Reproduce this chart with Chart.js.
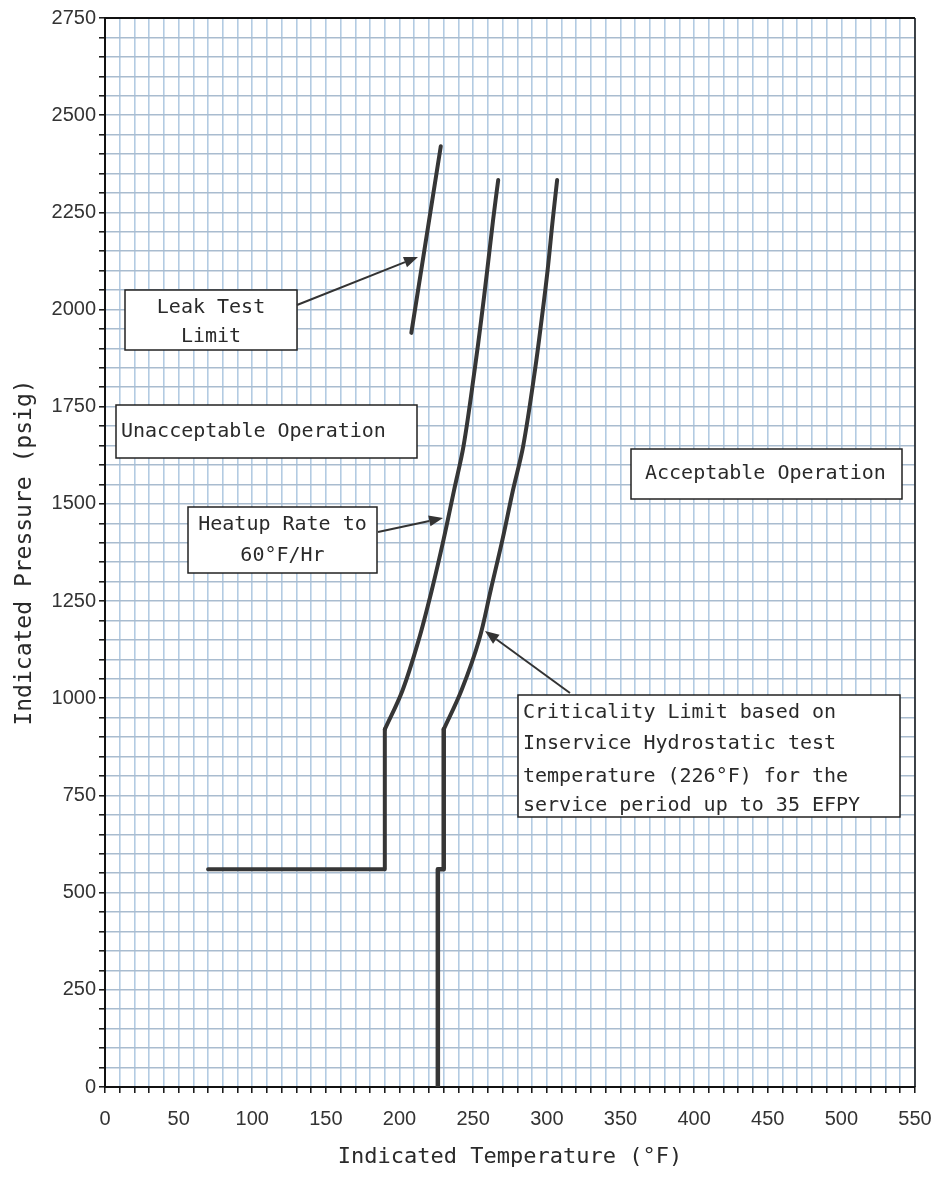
<!DOCTYPE html>
<html><head><meta charset="utf-8">
<script src="https://cdn.jsdelivr.net/npm/chart.js@4.4.1/dist/chart.umd.min.js"></script>
<style>html,body{margin:0;padding:0;background:#fff}canvas{display:block}</style>
</head><body>
<canvas id="c" width="935" height="1179"></canvas>
<script>
// ---- data ----
const xTickLabels = [0,50,100,150,200,250,300,350,400,450,500,550];
const yTickLabels = [0,250,500,750,1000,1250,1500,1750,2000,2250,2500,2750];

const leakTestT = [208, 228];
const leakTestP = [1940, 2420];

// heatup limit: straight (step) part, then curved part
const heatupStepT = [70, 190, 190];
const heatupStepP = [560, 560, 920];
const heatupCurveT = [190, 202, 213, 222, 230, 237, 243.5, 251, 255.5, 259.5, 263.5, 267];
const heatupCurveP = [920, 1020, 1150, 1280, 1410, 1535, 1650, 1845, 1975, 2100, 2230, 2333];

// criticality limit: straight (step) part, then curved part
const critStepT = [226, 226, 230, 230];
const critStepP = [0, 560, 560, 920];
const critCurveT = [230, 242, 254, 262, 270, 277, 284, 292, 296.5, 300.5, 304, 307];
const critCurveP = [920, 1020, 1150, 1280, 1410, 1535, 1650, 1845, 1975, 2100, 2230, 2333];

const xTitle = 'Indicated Temperature (°F)';
const yTitle = 'Indicated Pressure (psig)';

const notes = [
  {lines:['Leak Test','Limit'], box:[125,290,297,350], align:'center', ys:[308,337], arrow:[297,305,418,257]},
  {lines:['Unacceptable Operation'], box:[116,405,417,458], align:'left', x:121, ys:[432]},
  {lines:['Acceptable Operation'], box:[631,449,902,499], align:'left', x:645, ys:[474]},
  {lines:['Heatup Rate to','60°F/Hr'], box:[188,507,377,573], align:'center', ys:[525,556], arrow:[378,532,443,518]},
  {lines:['Criticality Limit based on','Inservice Hydrostatic test','temperature (226°F) for the','service period up to 35 EFPY'],
   box:[518,695,900,817], align:'left', x:523, ys:[713,744,777,806], arrow:[570,693,485,631]}
];

function pts(xs, ys){ return xs.map((x,i)=>({x:x, y:ys[i]})); }

const lineStyle = {borderColor:'#363636', borderWidth:4, pointRadius:0, showLine:true, fill:false,
  tension:0, borderJoinStyle:'round', borderCapStyle:'round'};
const curveStyle = Object.assign({}, lineStyle, {tension:0.35});

function arrow(ctx, x1,y1,x2,y2){
  ctx.save();
  ctx.strokeStyle='#333'; ctx.fillStyle='#333'; ctx.lineWidth=2;
  const a=Math.atan2(y2-y1,x2-x1), L=14, W=5.5;
  const bx=x2-L*Math.cos(a), by=y2-L*Math.sin(a);
  ctx.beginPath(); ctx.moveTo(x1,y1); ctx.lineTo(bx,by); ctx.stroke();
  ctx.beginPath(); ctx.moveTo(x2,y2);
  ctx.lineTo(bx+W*Math.sin(a), by-W*Math.cos(a));
  ctx.lineTo(bx-W*Math.sin(a), by+W*Math.cos(a));
  ctx.closePath(); ctx.fill();
  ctx.restore();
}

const extras = {
  id:'extras',
  beforeDatasetsDraw(chart){
    const {ctx, chartArea:ca} = chart;
    ctx.save();
    ctx.strokeStyle='#111';
    ctx.lineWidth=2;
    ctx.beginPath(); ctx.moveTo(ca.left, ca.top); ctx.lineTo(ca.right, ca.top); ctx.stroke();
    ctx.lineWidth=1.5;
    ctx.beginPath(); ctx.moveTo(ca.right, ca.top); ctx.lineTo(ca.right, ca.bottom); ctx.stroke();
    ctx.restore();
  },
  afterDatasetsDraw(chart){
    const ctx = chart.ctx;
    ctx.save();
    for (const n of notes){
      const [x1,y1,x2,y2] = n.box;
      ctx.fillStyle='#fff';
      ctx.fillRect(x1,y1,x2-x1,y2-y1);
      ctx.strokeStyle='#222'; ctx.lineWidth=1.5;
      ctx.strokeRect(x1,y1,x2-x1,y2-y1);
      ctx.fillStyle='#2a2a2a';
      ctx.font='20px "DejaVu Sans Mono"';
      ctx.textBaseline='middle';
      n.lines.forEach((t,i)=>{
        if (n.align==='center'){ ctx.textAlign='center'; ctx.fillText(t,(x1+x2)/2,n.ys[i]); }
        else { ctx.textAlign='left'; ctx.fillText(t,n.x,n.ys[i]); }
      });
      if (n.arrow) arrow(ctx, ...n.arrow);
    }
    ctx.restore();
  }
};

new Chart(document.getElementById('c'), {
  type:'scatter',
  data:{datasets:[
    Object.assign({label:'Leak Test Limit', data:pts(leakTestT, leakTestP)}, lineStyle),
    Object.assign({label:'Heatup Rate to 60°F/Hr (step)', data:pts(heatupStepT, heatupStepP)}, lineStyle),
    Object.assign({label:'Heatup Rate to 60°F/Hr', data:pts(heatupCurveT, heatupCurveP)}, curveStyle),
    Object.assign({label:'Criticality Limit (step)', data:pts(critStepT, critStepP)}, lineStyle, {borderWidth:4.5}),
    Object.assign({label:'Criticality Limit', data:pts(critCurveT, critCurveP)}, curveStyle)
  ]},
  options:{
    responsive:false, animation:false,
    layout:{padding:{left:0, top:18, right:20, bottom:0}},
    plugins:{legend:{display:false}, tooltip:{enabled:false}},
    scales:{
      x:{type:'linear', min:0, max:550,
        afterFit(s){ s.height = 92; s.paddingLeft = 0; s.paddingRight = 0; },
        grid:{color:'#b3cbe2', lineWidth:1.6, tickColor:'#111', tickLength:6, tickWidth:1.5},
        border:{color:'#111', width:2},
        ticks:{stepSize:10, autoSkip:false, maxRotation:0, padding:14, color:'#333',
          font:{family:'"Liberation Sans", Arial, sans-serif', size:20},
          callback:(v)=> xTickLabels.includes(v) ? String(v) : ''},
        title:{display:true, text:xTitle, color:'#2a2a2a', padding:{top:0,bottom:9},
          font:{family:'"DejaVu Sans Mono", monospace', size:22}}
      },
      y:{type:'linear', min:0, max:2750,
        afterFit(s){ s.width = 105; s.paddingTop = 0; s.paddingBottom = 0; },
        grid:{color:'#a9bccf', lineWidth:1.6, tickColor:'#111', tickLength:6, tickWidth:1.5},
        border:{color:'#111', width:2},
        ticks:{stepSize:50, autoSkip:false, padding:3, color:'#333',
          font:{family:'"Liberation Sans", Arial, sans-serif', size:20},
          callback:(v)=> yTickLabels.includes(v) ? String(v) : ''},
        title:{display:true, text:yTitle, color:'#2a2a2a', padding:{top:11,bottom:0},
          font:{family:'"DejaVu Sans Mono", monospace', size:23}}
      }
    }
  },
  plugins:[extras]
});
</script>
</body></html>
